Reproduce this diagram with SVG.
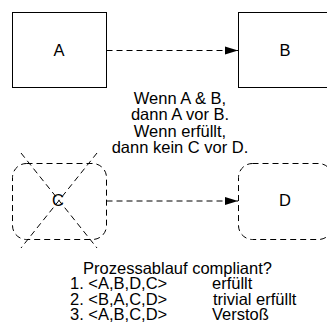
<svg xmlns="http://www.w3.org/2000/svg" width="327" height="331" viewBox="0 0 327 331">
<style>
.box{fill:#fff;stroke:#000;stroke-width:1}
.dbox{fill:#fff;stroke:#000;stroke-width:1;stroke-dasharray:6 4}
.conn{fill:none;stroke:#000;stroke-width:1;stroke-dasharray:6 4}
text{font-family:"Liberation Sans",Arial,sans-serif;font-size:16.5px;fill:#000}
.c{text-anchor:middle}
</style>
<defs>
<marker id="arr" markerUnits="userSpaceOnUse" markerWidth="14" markerHeight="10" refX="13" refY="5" orient="auto">
<path d="M0,1 L13,5 L0,9 Z" fill="#000"/>
</marker>
</defs>
<rect width="327" height="331" fill="#fff"/>
<g id="connectors">
<line class="conn" x1="106.5" y1="50.5" x2="238" y2="50.5" marker-end="url(#arr)"/>
<line class="conn" x1="106.5" y1="201" x2="238" y2="201" marker-end="url(#arr)"/>
</g>
<g id="nodeA">
<rect class="box" x="12.5" y="12.5" width="94" height="75"/>
<text class="c" x="59" y="56">A</text>
</g>
<g id="nodeB">
<rect class="box" x="238.5" y="12.5" width="94" height="75"/>
<text class="c" x="285" y="56">B</text>
</g>
<g id="nodeC">
<rect class="dbox" x="12.5" y="163.5" width="94" height="76" rx="14" ry="14"/>
<text class="c" x="58" y="206">C</text>
<line class="conn" x1="21" y1="153" x2="97" y2="248"/>
<line class="conn" x1="97" y1="153" x2="21" y2="248"/>
</g>
<g id="nodeD">
<rect class="dbox" x="238.5" y="163.5" width="94" height="76" rx="14" ry="14"/>
<text class="c" x="285" y="206">D</text>
</g>
<g id="rule">
<text class="c" x="180" y="103.5">Wenn A &amp; B,</text>
<text class="c" x="180" y="120">dann A vor B.</text>
<text class="c" x="180" y="136.7">Wenn erfüllt,</text>
<text class="c" x="180" y="153.3">dann kein C vor D.</text>
</g>
<g id="check">
<text class="c" x="177.5" y="273.5">Prozessablauf compliant?</text>
<text x="70" y="289">1. &lt;A,B,D,C&gt;</text>
<text x="212" y="289">erfüllt</text>
<text x="70" y="304.5">2. &lt;B,A,C,D&gt;</text>
<text x="213" y="304.5">trivial erfüllt</text>
<text x="70" y="320">3. &lt;A,B,C,D&gt;</text>
<text x="212" y="320">Verstoß</text>
</g>
</svg>
